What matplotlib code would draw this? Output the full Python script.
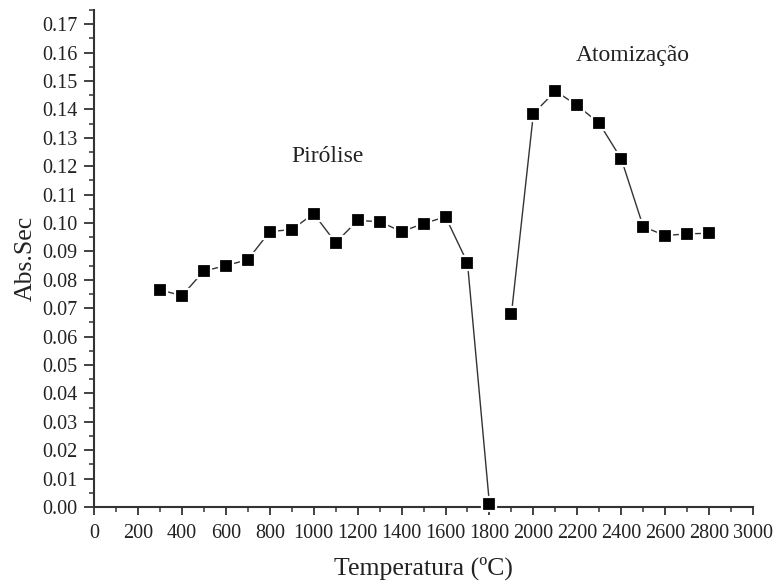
import matplotlib
matplotlib.use("Agg")
import matplotlib.pyplot as plt
from matplotlib.ticker import MultipleLocator, FormatStrFormatter

plt.rcParams['font.family'] = ['Liberation Serif', 'DejaVu Serif']

# pirólise: 300 a 1800 °C
temp_pir = [300, 400, 500, 600, 700, 800, 900, 1000, 1100, 1200,
            1300, 1400, 1500, 1600, 1700, 1800]
abs_pir = [0.0765, 0.0744, 0.0831, 0.0850, 0.0871, 0.0970, 0.0977, 0.1033,
           0.0931, 0.1009, 0.1005, 0.0970, 0.0998, 0.1022, 0.0860, 0.0010]

# atomização: 1900 a 2800 °C
temp_atom = [1900, 2000, 2100, 2200, 2300, 2400, 2500, 2600, 2700, 2800]
abs_atom = [0.0680, 0.1385, 0.1465, 0.1414, 0.1351, 0.1226, 0.0987,
            0.0956, 0.0962, 0.0964]

fig = plt.figure(figsize=(7.8, 5.86), dpi=100)
ax = fig.add_axes([0.1205, 0.1348, 0.845, 0.848])

for t, a in [(temp_pir, abs_pir), (temp_atom, abs_atom)]:
    ax.plot(t, a, color='#333333', lw=1.0, marker='s', ms=9.5,
            mfc='black', mec='white', mew=1.6, zorder=3, clip_on=False)

ax.set_xlim(0, 3000)
ax.set_ylim(0, 0.175)
ax.xaxis.set_major_locator(MultipleLocator(200))
ax.xaxis.set_minor_locator(MultipleLocator(100))
ax.yaxis.set_major_locator(MultipleLocator(0.01))
ax.yaxis.set_minor_locator(MultipleLocator(0.005))
ax.yaxis.set_major_formatter(FormatStrFormatter('%.2f'))

for s in ['top', 'right']:
    ax.spines[s].set_visible(False)
for s in ['left', 'bottom']:
    ax.spines[s].set_linewidth(1.5)
    ax.spines[s].set_color('#333333')

ax.tick_params(which='major', direction='out', width=1.3,
               color='#333333', labelsize=14.5, labelcolor='#222222')
ax.tick_params(which='minor', direction='out', length=3.5, width=1.1,
               color='#333333')
ax.tick_params(axis='y', which='major', length=7, pad=5)
ax.tick_params(axis='x', which='major', length=6, pad=6)

ax.set_xlabel('Temperatura (ºC)', fontsize=18.5, color='#222222', labelpad=10)
ax.set_ylabel('Abs.Sec', fontsize=18.5, color='#222222', labelpad=4)

ax.text(1065, 0.1235, 'Pirólise', fontsize=17, ha='center', va='center',
        color='#222222')
ax.text(2454, 0.159, 'Atomização', fontsize=17, ha='center', va='center',
        color='#222222')

fig.savefig('out.png', dpi=100)
